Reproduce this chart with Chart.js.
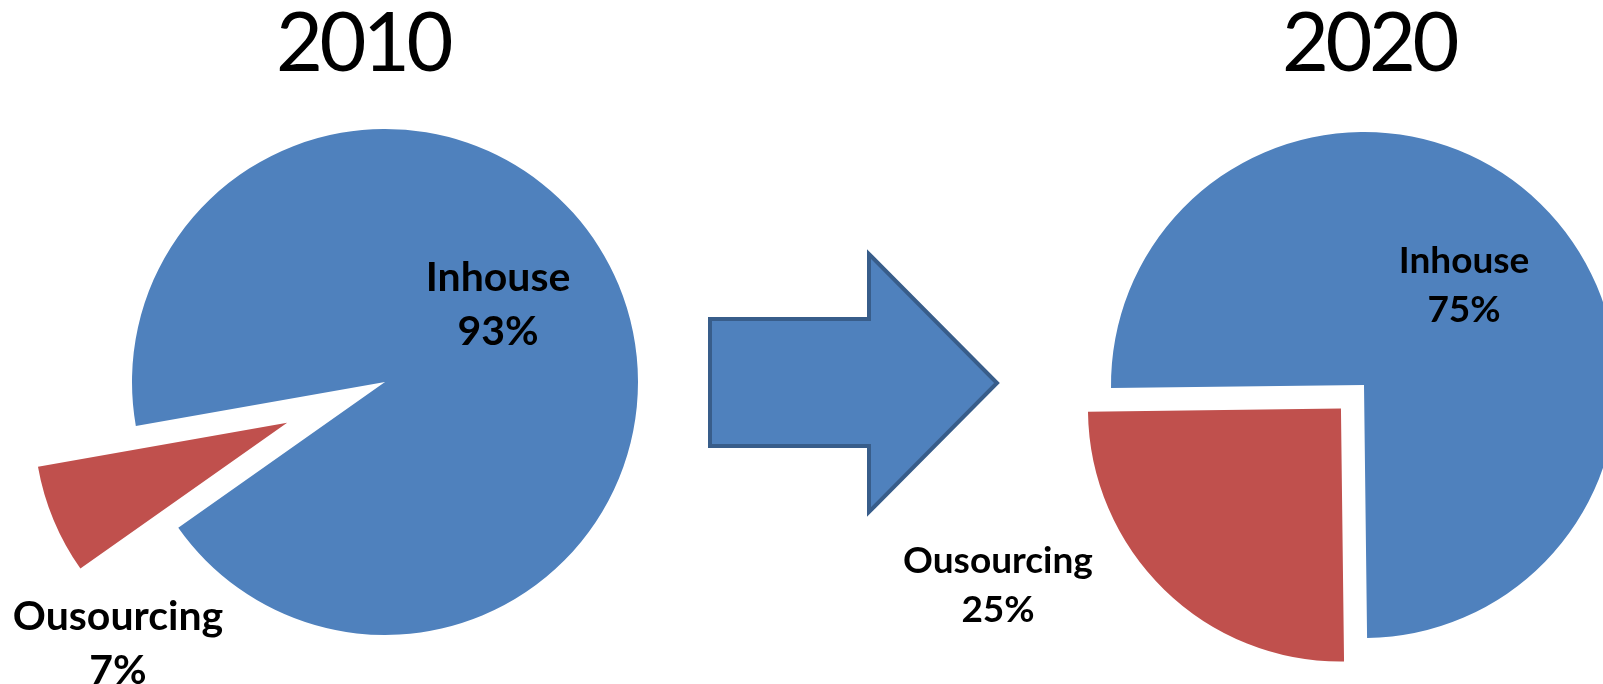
<!DOCTYPE html>
<html>
<head>
<meta charset="utf-8">
<script src="https://cdn.jsdelivr.net/npm/chart.js@4.4.1/dist/chart.umd.min.js"></script>
<style>
  html, body { margin: 0; padding: 0; background: #fff; overflow: hidden; }
  body { width: 1603px; height: 684px; position: relative; }
  canvas { position: absolute; top: 0; }
  #pie2010 { left: 0; }
  #pie2020 { left: 864px; }
  .year {
    position: absolute; top: 0;
    font: 81px/80px Lato, sans-serif;
    letter-spacing: -3.5px;
    color: #000;
    white-space: nowrap;
    transform: translateX(-50%);
  }
  #arrow { position: absolute; left: 0; top: 0; }
</style>
</head>
<body>
<svg id="arrow" width="1603" height="684">
  <polygon points="710,319 869,319 869,254 997,383 869,512 869,446 710,446"
           fill="#4f81bd" stroke="#385d8a" stroke-width="4" stroke-linejoin="miter" />
</svg>
<div class="year" id="year0" style="left: 363px;"></div>
<div class="year" id="year1" style="left: 1369px;"></div>
<canvas id="pie2010" width="770" height="684"></canvas>
<canvas id="pie2020" width="1000" height="684"></canvas>
<script>
const years = ["2010", "2020"];
const categories = ["Inhouse", "Ousourcing"];
const share2010 = [93, 7];
const share2020 = [75, 25];

const BLUE = "#4f81bd";
const RED = "#c0504d";

document.getElementById("year0").textContent = years[0];
document.getElementById("year1").textContent = years[1];

// pull single slices out of the pie without changing their radius
const explode = {
  id: "explode",
  afterDatasetsUpdate(chart, args, opts) {
    const meta = chart.getDatasetMeta(0);
    meta.data.forEach((arc, i) => {
      const dist = opts.distance[i] || 0;
      if (!dist || arc._exploded) {
        return;
      }
      const draw = arc.draw;
      arc.draw = function (ctx, area) {
        const mid = (this.startAngle + this.endAngle) / 2;
        ctx.save();
        ctx.translate(Math.cos(mid) * dist, Math.sin(mid) * dist);
        draw.call(this, ctx, area);
        ctx.restore();
      };
      arc._exploded = true;
    });
  },
};

const sliceLabels = {
  id: "sliceLabels",
  afterDatasetsDraw(chart, args, opts) {
    const { ctx } = chart;
    const meta = chart.getDatasetMeta(0);
    const values = chart.data.datasets[0].data;
    ctx.save();
    ctx.font = "bold " + opts.size + "px Lato";
    ctx.fillStyle = "#000";
    ctx.textAlign = "center";
    ctx.textBaseline = "middle";
    meta.data.forEach((arc, i) => {
      const [dx, dy] = opts.pos[i];
      const x = arc.x + dx;
      const y = arc.y + dy;
      ctx.fillText(chart.data.labels[i], x, y - opts.gap / 2);
      ctx.fillText(values[i] + "%", x, y + opts.gap / 2);
    });
    ctx.restore();
  },
};

function pieChart(id, values, cfg) {
  return new Chart(document.getElementById(id), {
    type: "pie",
    data: {
      labels: categories,
      datasets: [
        {
          data: values,
          backgroundColor: [BLUE, RED],
          borderWidth: 0,
        },
      ],
    },
    options: {
      responsive: false,
      animation: false,
      events: [],
      rotation: cfg.rotation,
      radius: 253,
      layout: {
        padding: { top: cfg.padTop, bottom: 0, left: 0, right: 0 },
      },
      plugins: {
        legend: { display: false },
        tooltip: { enabled: false },
        explode: { distance: cfg.explode },
        sliceLabels: { pos: cfg.labelPos, size: cfg.fontSize, gap: cfg.lineGap },
      },
    },
    plugins: [explode, sliceLabels],
  });
}

pieChart("pie2010", share2010, {
  rotation: 260,
  padTop: 80,
  explode: [0, 106],
  labelPos: [[113, -77], [-267, 262]],
  fontSize: 41,
  lineGap: 54,
});

pieChart("pie2020", share2020, {
  rotation: 269.3,
  padTop: 86,
  explode: [0, 33],
  labelPos: [[100, -99], [-366, 201]],
  fontSize: 37,
  lineGap: 49,
});
</script>
</body>
</html>
